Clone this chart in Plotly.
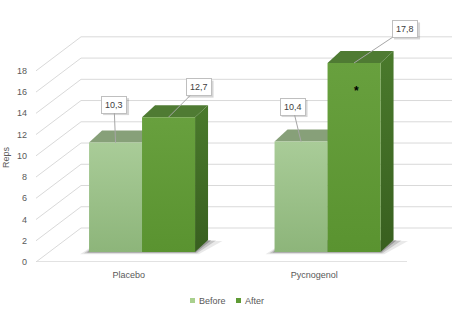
import plotly.graph_objects as go

# ---------------- data ----------------
categories = ["Placebo", "Pycnogenol"]
series_names = ["Before", "After"]
before_values = [10.3, 10.4]
after_values = [12.7, 17.8]
before_labels = ["10,3", "10,4"]
after_labels = ["12,7", "17,8"]
y_tick_values = [0, 2, 4, 6, 8, 10, 12, 14, 16, 18]
y_title = "Reps"
significance_marks = [[None, None], [None, "*"]]  # per category: [before, after]

# ---------------- geometry / style ----------------
W, H = 456, 323
ML, MR, MT, MB = 36, 4, 10, 61
PX_PER_X = 185.5           # pixels per category unit
PX_PER_Y = 10.62           # pixels per value unit
def ux(px):
    return px / PX_PER_X
def uy(px):
    return px / PX_PER_Y

WALL_DX, WALL_DY = ux(45), uy(34)       # depth of floor / back wall
BAR_OFF_X, BAR_OFF_Y = ux(13.3), uy(10)  # front face of bars sits behind the floor front edge
BAR_DX, BAR_DY = ux(13), uy(12)          # bar depth
BAR_W = ux(53)
N = len(categories)
X_MAX = N + WALL_DX
Y_MAX = uy(H - MT - MB)

GRID_COLOR = "#d9d9d9"
TEXT_COLOR = "#595959"
FONT = "Liberation Sans"

colors = {
    "Before": dict(front=[[0, "#8db57a"], [1, "#a9cc98"]], top="#87a079",
                   side=[[0, "#6b8f5a"], [1, "#7fa46c"]], legend="#a9d08e"),
    "After": dict(front=[[0, "#5a9330"], [1, "#68a03e"]], top="#4f7b33",
                  side=[[0, "#385f1f"], [1, "#4a7a2c"]], legend="#5f9b35"),
}
label_offsets = {"Before": [(-1.5, -38), (-8.5, -35)], "After": [(30, -30), (51, -34)]}
LABEL_BOX_W, LABEL_BOX_H = 26, 17

fig = go.Figure()

# ---------------- back wall gridlines + floor ----------------
gx, gy = [], []
for v in y_tick_values:
    gx += [0, WALL_DX, N + WALL_DX, None]
    gy += [v, v + WALL_DY, v + WALL_DY, None]
fig.add_trace(go.Scatter(x=gx, y=gy, mode="lines", line=dict(color=GRID_COLOR, width=1),
                         hoverinfo="skip", showlegend=False))
fig.add_trace(go.Scatter(x=[0, N], y=[0, 0], mode="lines", line=dict(color=GRID_COLOR, width=1.6),
                         hoverinfo="skip", showlegend=False))

# ---------------- bars ----------------
series = [("Before", before_values), ("After", after_values)]

def poly(xs, ys, **kw):
    fig.add_trace(go.Scatter(x=xs + [xs[0]], y=ys + [ys[0]], mode="lines", fill="toself",
                             line=dict(width=0), hoverinfo="skip", showlegend=False, **kw))

for ci in range(N):
    center = ci + 0.5 + BAR_OFF_X
    left = center - BAR_W * len(series) / 2
    right = center + BAR_W * len(series) / 2
    b0 = BAR_OFF_Y
    # soft shadow under the group
    for grow, op in [(9, 0.10), (5, 0.18), (2, 0.28)]:
        g = ux(grow)
        poly([left - g, right + g * 0.4, right + BAR_DX + g * 1.6, left + BAR_DX],
             [b0 - uy(grow * 0.25), b0 - uy(grow * 0.25), b0 + BAR_DY - uy(grow * 0.1), b0 + BAR_DY],
             fillcolor=f"rgba(40,40,40,{op})")
    for si, (name, vals) in enumerate(series):
        v = vals[ci]
        x0 = left + si * BAR_W
        x1 = x0 + BAR_W
        top = b0 + v
        c = colors[name]
        # side face
        poly([x1, x1 + BAR_DX, x1 + BAR_DX, x1], [b0, b0 + BAR_DY, top + BAR_DY, top],
             fillgradient=dict(type="vertical", colorscale=c["side"]))
        # top face
        poly([x0, x0 + BAR_DX, x1 + BAR_DX, x1], [top, top + BAR_DY, top + BAR_DY, top],
             fillcolor=c["top"])
        # front face
        poly([x0, x1, x1, x0], [b0, b0, top, top],
             fillgradient=dict(type="vertical", colorscale=c["front"]))

# ---------------- data labels ----------------
for si, (name, vals) in enumerate(series):
    texts = before_labels if name == "Before" else after_labels
    for ci in range(N):
        center = ci + 0.5 + BAR_OFF_X
        left = center - BAR_W * len(series) / 2
        xc = left + si * BAR_W + BAR_W / 2
        yt = BAR_OFF_Y + vals[ci]
        axo, ayo = label_offsets[name][ci]
        # soft shadow behind the label box (pixel-sized shape anchored at the bar top)
        fig.add_shape(type="rect", xref="x", yref="y", xsizemode="pixel", ysizemode="pixel",
                      xanchor=xc, yanchor=yt,
                      x0=axo - LABEL_BOX_W / 2 + 2, x1=axo + LABEL_BOX_W / 2 + 2,
                      y0=-ayo - LABEL_BOX_H / 2 - 2, y1=-ayo + LABEL_BOX_H / 2 - 2,
                      fillcolor="rgba(0,0,0,0.16)", line=dict(width=0), layer="above")
        fig.add_annotation(x=xc, y=yt, ax=axo, ay=ayo, text=texts[ci], showarrow=True,
                           arrowcolor="#a6a6a6", arrowwidth=1, arrowhead=0, standoff=0,
                           font=dict(family=FONT, size=9, color="#404040"),
                           bgcolor="white", bordercolor="#bfbfbf", borderwidth=1, borderpad=3)
        mark = significance_marks[ci][si]
        if mark:
            fig.add_annotation(x=xc, y=yt, text=f"<b>{mark}</b>", showarrow=False,
                               xshift=2, yshift=-28, font=dict(family=FONT, size=12, color="black"))

# ---------------- y title ----------------
pw, ph = W - ML - MR, H - MT - MB
fig.add_annotation(xref="paper", yref="paper", x=(6 - ML) / pw, y=(H - MB - 157) / ph,
                   xanchor="center", yanchor="middle",
                   text=y_title, textangle=-90, showarrow=False,
                   font=dict(family=FONT, size=9, color=TEXT_COLOR))

# ---------------- legend (custom, Excel-like small swatches) ----------------
legend_items = [(series_names[0], 190), (series_names[1], 236)]
for name, px in legend_items:
    fig.add_shape(type="rect", xref="paper", yref="paper",
                  x0=(px - ML) / pw, x1=(px + 5 - ML) / pw,
                  y0=(H - MB - 303) / ph, y1=(H - MB - 298) / ph,
                  fillcolor=colors[name]["legend"], line=dict(width=0))
    fig.add_annotation(xref="paper", yref="paper", x=(px + 7 - ML) / pw, y=(H - MB - 300.5) / ph,
                       xanchor="left", yanchor="middle", text=name, showarrow=False,
                       font=dict(family=FONT, size=9, color=TEXT_COLOR))

fig.update_layout(
    width=W, height=H, margin=dict(l=ML, r=MR, t=MT, b=MB),
    paper_bgcolor="white", plot_bgcolor="white", showlegend=False,
    font=dict(family=FONT, size=9, color=TEXT_COLOR),
    xaxis=dict(range=[0, X_MAX], showgrid=False, zeroline=False, showline=False,
               tickvals=[i + 0.5 for i in range(N)], ticktext=categories, ticks="",
               ticklabelstandoff=6, fixedrange=True),
    yaxis=dict(range=[0, Y_MAX], showgrid=False, zeroline=False, showline=False,
               tickvals=y_tick_values, ticks="", ticklabelstandoff=8, fixedrange=True),
)
fig.write_html("out.html")
